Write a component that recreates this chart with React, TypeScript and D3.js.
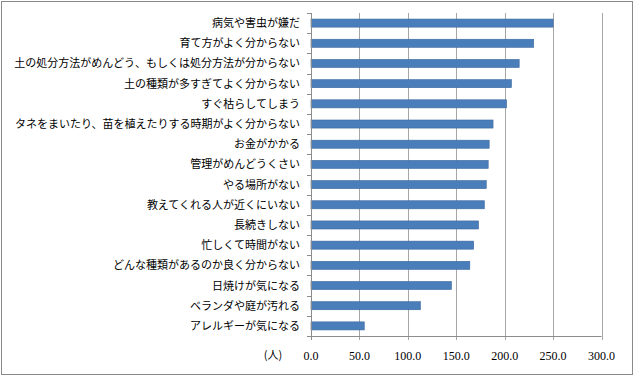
import React from 'react';
import * as d3 from 'd3';

const categories = [
  '病気や害虫が嫌だ',
  '育て方がよく分からない',
  '土の処分方法がめんどう、もしくは処分方法が分からない',
  '土の種類が多すぎてよく分からない',
  'すぐ枯らしてしまう',
  'タネをまいたり、苗を植えたりする時期がよく分からない',
  'お金がかかる',
  '管理がめんどうくさい',
  'やる場所がない',
  '教えてくれる人が近くにいない',
  '長続きしない',
  '忙しくて時間がない',
  'どんな種類があるのか良く分からない',
  '日焼けが気になる',
  'ベランダや庭が汚れる',
  'アレルギーが気になる',
];

const counts = [250, 230, 215, 207, 202, 188, 184, 183, 181, 179, 173, 168, 164, 145, 113, 55];

const xTicks = [0, 50, 100, 150, 200, 250, 300];
const unitLabel = '(人)';

const App = () => {
  const Width = 640;
  const Height = 384;
  const left = 311;
  const right = 601.5;
  const top = 13;
  const bottom = 336;

  const xScale = d3.scaleLinear().domain([0, 300]).range([left, right]);
  const yScale = d3.scaleBand().domain(categories).range([top, bottom]).paddingInner(0.6).paddingOuter(0.3);
  const band = d3.scaleBand().domain(categories).range([top, bottom]);

  const jp = '"Noto Sans CJK JP", sans-serif';

  return (
    <svg width={Width} height={Height} style={{ position: 'fixed', left: 0, top: 0, background: '#fff' }}>
      <rect x={1.5} y={1.5} width={631} height={373} fill="#fff" stroke="#8a8a8a" strokeWidth={1} />

      {xTicks.slice(1).map((t) => (
        <line key={t} x1={Math.round(xScale(t)) + 0.5} x2={Math.round(xScale(t)) + 0.5} y1={top} y2={bottom + 4} stroke="#a6a6a6" strokeWidth={1} />
      ))}

      {categories.map((c, i) => (
        <rect
          key={c}
          x={xScale(0)}
          y={yScale(c)}
          width={xScale(counts[i]) - xScale(0)}
          height={yScale.bandwidth()}
          fill="#4a7ebb"
          stroke="#3c6aa0"
          strokeWidth={0.6}
        />
      ))}

      {/* y axis */}
      <line x1={left + 0.5} x2={left + 0.5} y1={top} y2={bottom} stroke="#8c8c8c" />
      {d3.range(categories.length + 1).map((i) => {
        const y = Math.round(top + i * band.bandwidth()) + 0.5;
        return <line key={i} x1={left - 4} x2={left} y1={y} y2={y} stroke="#8c8c8c" />;
      })}

      {/* x axis */}
      <line x1={left} x2={right} y1={bottom + 0.5} y2={bottom + 0.5} stroke="#8c8c8c" />
      <line x1={left + 0.5} x2={left + 0.5} y1={bottom} y2={bottom + 4} stroke="#8c8c8c" />

      {xTicks.map((t) => (
        <text
          key={t}
          x={xScale(t)}
          y={360}
          textAnchor="middle"
          style={{ fontSize: '12px', fontFamily: '"Liberation Serif", "DejaVu Serif", serif', fill: '#000' }}
        >
          {d3.format('.1f')(t)}
        </text>
      ))}

      <text x={273} y={359} textAnchor="middle" style={{ fontSize: '11px', fontFamily: jp }}>
        {unitLabel}
      </text>

      {categories.map((c) => (
        <text
          key={c}
          x={300}
          y={(band(c) as number) + band.bandwidth() / 2 + 1}
          textAnchor="end"
          dominantBaseline="middle"
          style={{ fontSize: '11px', fontFamily: jp, fill: '#000' }}
        >
          {c}
        </text>
      ))}
    </svg>
  );
};

export default App;
